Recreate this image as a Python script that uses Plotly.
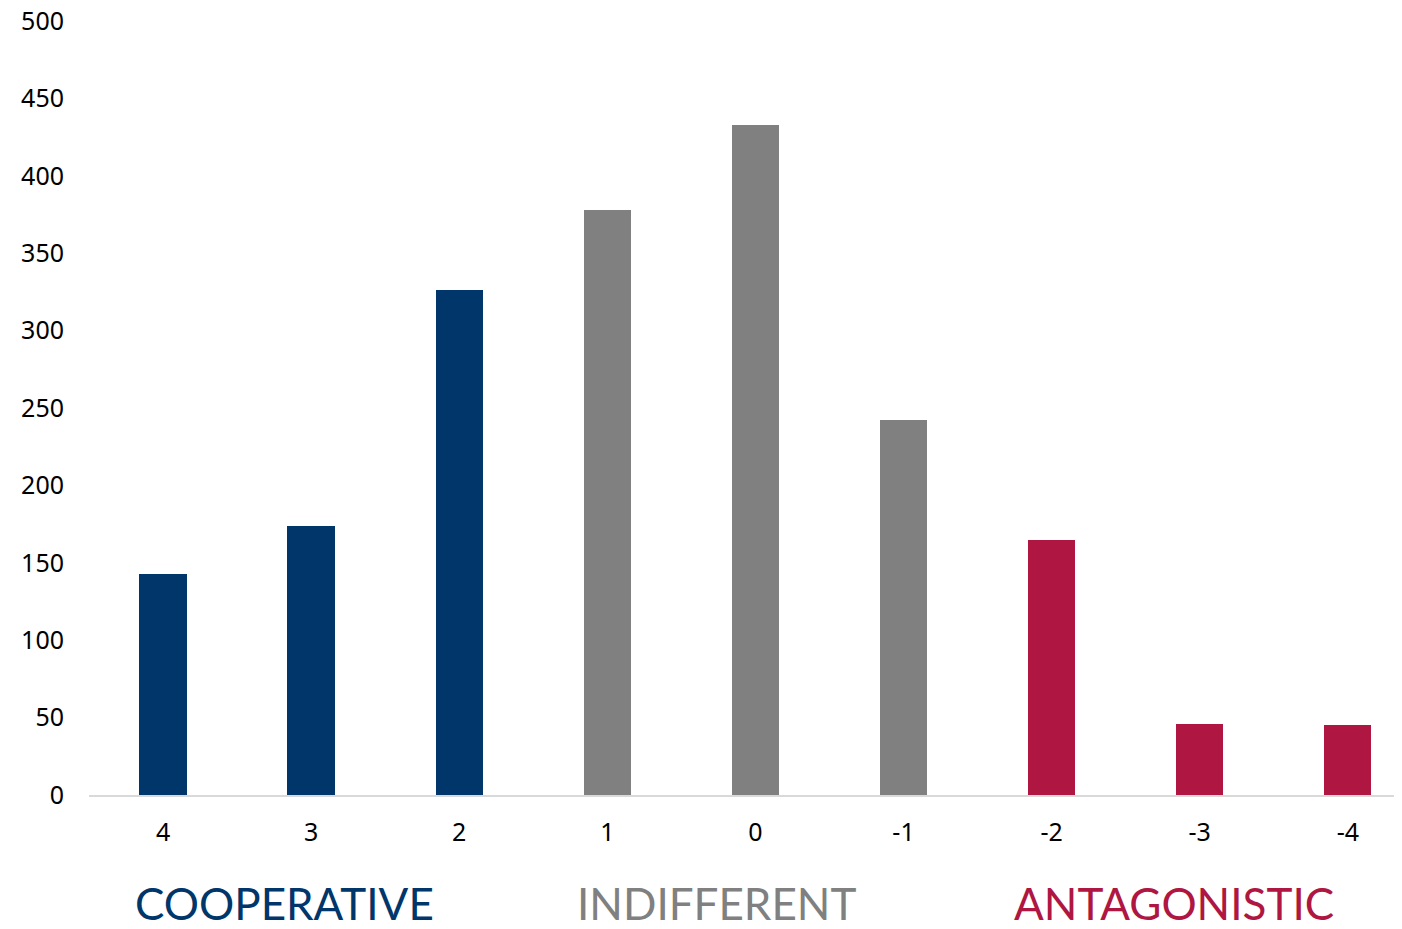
import plotly.graph_objects as go

categories = ["4", "3", "2", "1", "0", "-1", "-2", "-3", "-4"]
values = [143, 174, 326, 378, 433, 242, 165, 46, 45]
groups = ["coop", "coop", "coop", "ind", "ind", "ind", "ant", "ant", "ant"]
group_colors = {"coop": "#00366A", "ind": "#808080", "ant": "#AF1641"}
group_labels = [("COOPERATIVE", "coop", 0.149), ("INDIFFERENT", "ind", 0.478), ("ANTAGONISTIC", "ant", 0.826)]
y_ticks = [0, 50, 100, 150, 200, 250, 300, 350, 400, 450, 500]

FONT = "Noto Sans"
LABEL_FONT = "Lato"

fig = go.Figure()
fig.add_trace(go.Bar(
    x=categories, y=values,
    marker=dict(color=[group_colors[g] for g in groups], line=dict(width=0)),
    width=0.32,
))

for text, g, xp in group_labels:
    fig.add_annotation(
        text=text, x=xp, y=-0.14, xref="paper", yref="paper",
        xanchor="center", yanchor="middle", showarrow=False,
        font=dict(family=LABEL_FONT, size=44, color=group_colors[g]),
    )

# page body has an 8px margin, so the figure is sized to fit the 1402x929 window
fig.update_layout(
    width=1394, height=921,
    margin=dict(l=81, r=0, t=13, b=134),
    paper_bgcolor="white", plot_bgcolor="white",
    showlegend=False,
    font=dict(family=FONT, size=25, color="#000000"),
    bargap=0,
)
fig.update_xaxes(
    type="category", range=[-0.5, 8.366], automargin=False,
    showline=True, linecolor="#D9D9D9", linewidth=2,
    showgrid=False, ticks="", ticklabelstandoff=14,
    ticklabeloverflow="allow",
    tickfont=dict(family=FONT, size=25, color="#000000"),
)
fig.update_yaxes(
    range=[0, 500], tickvals=y_ticks, automargin=False,
    showgrid=False, zeroline=False, showline=False, ticks="",
    ticklabelstandoff=24, ticklabeloverflow="allow",
    tickfont=dict(family=FONT, size=25, color="#000000"),
)

fig.write_html("out.html")
